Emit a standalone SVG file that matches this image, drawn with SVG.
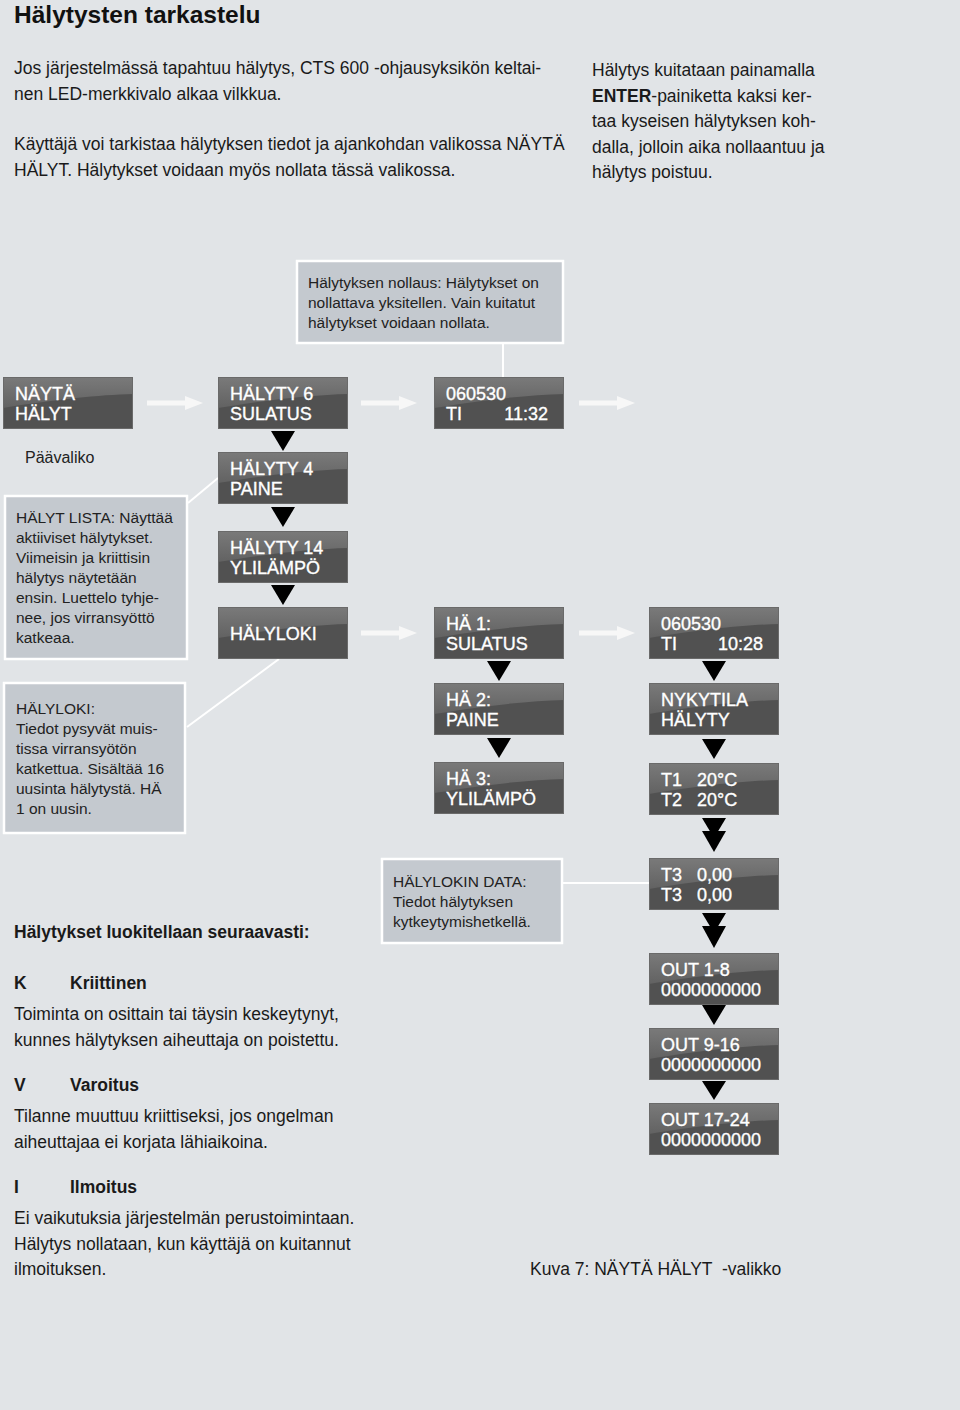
<svg xmlns="http://www.w3.org/2000/svg" xmlns:xlink="http://www.w3.org/1999/xlink" width="960" height="1410" viewBox="0 0 960 1410">
<style>
text{font-family:"Liberation Sans",Arial,Helvetica,sans-serif}
.title{font-size:24.5px;font-weight:bold;fill:#111}
.body{font-size:17.5px;fill:#1a1a1a}
.bold{font-weight:bold}
.call{font-size:15.5px;fill:#222}
.lcd{font-size:18px;fill:#fff;stroke:#fff;stroke-width:0.35}
.cbox{fill:#c4c9cf;stroke:#fff;stroke-width:2.5}
.lead{stroke:#fff;stroke-width:2;fill:none}
.tri{fill:#000}
.warr{fill:#f7f7f7}
</style>
<defs>
<linearGradient id="hl" x1="0" y1="0" x2="0" y2="1">
<stop offset="0" stop-color="#7a7a7a"/>
<stop offset="1" stop-color="#626262"/>
</linearGradient>
<symbol id="lcdbox" viewBox="0 0 130 52" width="130" height="52">
<rect x="0" y="0" width="130" height="52" fill="#515151"/>
<path d="M0,0 H130 V17 C95,18 55,22 0,31 Z" fill="url(#hl)"/>
<rect x="0.5" y="0.5" width="129" height="51" fill="none" stroke="#6a6a6a" stroke-width="1"/>
</symbol>
<g id="warrow">
<rect x="0" y="-2.5" width="40" height="5"/>
<path d="M38,-7 L56,0 L38,7 Z"/>
</g>
</defs>
<rect width="960" height="1410" fill="#e1e4e7"/>

<text class="title" x="14" y="23">Hälytysten tarkastelu</text>

<g id="intro">
<text class="body" x="14" y="74">Jos järjestelmässä tapahtuu hälytys, CTS 600 -ohjausyksikön keltai-</text>
<text class="body" x="14" y="100">nen LED-merkkivalo alkaa vilkkua.</text>
<text class="body" x="14" y="150">Käyttäjä voi tarkistaa hälytyksen tiedot ja ajankohdan valikossa NÄYTÄ</text>
<text class="body" x="14" y="176">HÄLYT. Hälytykset voidaan myös nollata tässä valikossa.</text>
<text class="body" x="592" y="76">Hälytys kuitataan painamalla</text>
<text class="body" x="592" y="102"><tspan class="bold">ENTER</tspan>-painiketta kaksi ker-</text>
<text class="body" x="592" y="127">taa kyseisen hälytyksen koh-</text>
<text class="body" x="592" y="153">dalla, jolloin aika nollaantuu ja</text>
<text class="body" x="592" y="178">hälytys poistuu.</text>
</g>

<g id="connectors">
<line class="lead" x1="503" y1="343" x2="503" y2="377"/>
<line class="lead" x1="188" y1="503" x2="218" y2="478"/>
<line class="lead" x1="187" y1="727" x2="279" y2="659"/>
<line class="lead" x1="562" y1="883" x2="649" y2="883"/>
<use href="#warrow" class="warr" x="147" y="403"/>
<use href="#warrow" class="warr" x="361" y="403"/>
<use href="#warrow" class="warr" x="579" y="403"/>
<use href="#warrow" class="warr" x="361" y="633"/>
<use href="#warrow" class="warr" x="579" y="633"/>
<path class="tri" d="M271,431 H295 L283,451 Z"/>
<path class="tri" d="M271,507 H295 L283,527 Z"/>
<path class="tri" d="M271,585 H295 L283,605 Z"/>
<path class="tri" d="M487,661 H511 L499,681 Z"/>
<path class="tri" d="M487,738 H511 L499,758 Z"/>
<path class="tri" d="M702,661 H726 L714,681 Z"/>
<path class="tri" d="M702,739 H726 L714,759 Z"/>
<path class="tri" d="M702,818 H726 L714,838 Z"/>
<path class="tri" d="M702,831 H726 L714,852 Z"/>
<path class="tri" d="M702,913 H726 L714,933 Z"/>
<path class="tri" d="M702,926 H726 L714,948 Z"/>
<path class="tri" d="M702,1005 H726 L714,1025 Z"/>
<path class="tri" d="M702,1081 H726 L714,1100 Z"/>
</g>

<g id="note-nollaus">
<rect class="cbox" x="297" y="261" width="266" height="82"/>
<text class="call" x="308" y="288">Hälytyksen nollaus: Hälytykset on</text>
<text class="call" x="308" y="308">nollattava yksitellen. Vain kuitatut</text>
<text class="call" x="308" y="328">hälytykset voidaan nollata.</text>
</g>

<g id="node-nayta">
<use href="#lcdbox" x="3" y="377"/>
<text class="lcd" x="15" y="400">NÄYTÄ</text>
<text class="lcd" x="15" y="420">HÄLYT</text>
</g>
<text class="call" x="25" y="463" style="font-size:16px">Päävaliko</text>

<g id="node-halyty6">
<use href="#lcdbox" x="218" y="377"/>
<text class="lcd" x="230" y="400">HÄLYTY 6</text>
<text class="lcd" x="230" y="420">SULATUS</text>
</g>
<g id="node-time1">
<use href="#lcdbox" x="434" y="377"/>
<text class="lcd" x="446" y="400">060530</text>
<text class="lcd" x="446" y="420">TI</text>
<text class="lcd" x="548" y="420" text-anchor="end">11:32</text>
</g>
<g id="node-halyty4">
<use href="#lcdbox" x="218" y="452"/>
<text class="lcd" x="230" y="475">HÄLYTY 4</text>
<text class="lcd" x="230" y="495">PAINE</text>
</g>
<g id="node-halyty14">
<use href="#lcdbox" x="218" y="531"/>
<text class="lcd" x="230" y="554">HÄLYTY 14</text>
<text class="lcd" x="230" y="574">YLILÄMPÖ</text>
</g>
<g id="node-halyloki">
<use href="#lcdbox" x="218" y="607"/>
<text class="lcd" x="230" y="640">HÄLYLOKI</text>
</g>
<g id="node-ha1">
<use href="#lcdbox" x="434" y="607"/>
<text class="lcd" x="446" y="630">HÄ 1:</text>
<text class="lcd" x="446" y="650">SULATUS</text>
</g>
<g id="node-time2">
<use href="#lcdbox" x="649" y="607"/>
<text class="lcd" x="661" y="630">060530</text>
<text class="lcd" x="661" y="650">TI</text>
<text class="lcd" x="763" y="650" text-anchor="end">10:28</text>
</g>
<g id="node-ha2">
<use href="#lcdbox" x="434" y="683"/>
<text class="lcd" x="446" y="706">HÄ 2:</text>
<text class="lcd" x="446" y="726">PAINE</text>
</g>
<g id="node-nykytila">
<use href="#lcdbox" x="649" y="683"/>
<text class="lcd" x="661" y="706">NYKYTILA</text>
<text class="lcd" x="661" y="726">HÄLYTY</text>
</g>
<g id="node-ha3">
<use href="#lcdbox" x="434" y="762"/>
<text class="lcd" x="446" y="785">HÄ 3:</text>
<text class="lcd" x="446" y="805">YLILÄMPÖ</text>
</g>
<g id="node-t1t2">
<use href="#lcdbox" x="649" y="763"/>
<text class="lcd" x="661" y="786">T1</text>
<text class="lcd" x="697" y="786">20°C</text>
<text class="lcd" x="661" y="806">T2</text>
<text class="lcd" x="697" y="806">20°C</text>
</g>
<g id="node-t3">
<use href="#lcdbox" x="649" y="858"/>
<text class="lcd" x="661" y="881">T3</text>
<text class="lcd" x="697" y="881">0,00</text>
<text class="lcd" x="661" y="901">T3</text>
<text class="lcd" x="697" y="901">0,00</text>
</g>
<g id="node-out1">
<use href="#lcdbox" x="649" y="953"/>
<text class="lcd" x="661" y="976">OUT 1-8</text>
<text class="lcd" x="661" y="996">0000000000</text>
</g>
<g id="node-out2">
<use href="#lcdbox" x="649" y="1028"/>
<text class="lcd" x="661" y="1051">OUT 9-16</text>
<text class="lcd" x="661" y="1071">0000000000</text>
</g>
<g id="node-out3">
<use href="#lcdbox" x="649" y="1103"/>
<text class="lcd" x="661" y="1126">OUT 17-24</text>
<text class="lcd" x="661" y="1146">0000000000</text>
</g>

<g id="note-lista">
<rect class="cbox" x="5" y="496" width="182" height="163"/>
<text class="call" x="16" y="523">HÄLYT LISTA: Näyttää</text>
<text class="call" x="16" y="543">aktiiviset hälytykset.</text>
<text class="call" x="16" y="563">Viimeisin ja kriittisin</text>
<text class="call" x="16" y="583">hälytys näytetään</text>
<text class="call" x="16" y="603">ensin. Luettelo tyhje-</text>
<text class="call" x="16" y="623">nee, jos virransyöttö</text>
<text class="call" x="16" y="643">katkeaa.</text>
</g>

<g id="note-halyloki">
<rect class="cbox" x="4" y="683" width="181" height="150"/>
<text class="call" x="16" y="714">HÄLYLOKI:</text>
<text class="call" x="16" y="734">Tiedot pysyvät muis-</text>
<text class="call" x="16" y="754">tissa virransyötön</text>
<text class="call" x="16" y="774">katkettua. Sisältää 16</text>
<text class="call" x="16" y="794">uusinta hälytystä. HÄ</text>
<text class="call" x="16" y="814">1 on uusin.</text>
</g>

<g id="note-data">
<rect class="cbox" x="382" y="859" width="180" height="84"/>
<text class="call" x="393" y="887">HÄLYLOKIN DATA:</text>
<text class="call" x="393" y="907">Tiedot hälytyksen</text>
<text class="call" x="393" y="927">kytkeytymishetkellä.</text>
</g>

<g id="classes">
<text class="body bold" x="14" y="938">Hälytykset luokitellaan seuraavasti:</text>
<text class="body bold" x="14" y="989">K</text>
<text class="body bold" x="70" y="989">Kriittinen</text>
<text class="body" x="14" y="1020">Toiminta on osittain tai täysin keskeytynyt,</text>
<text class="body" x="14" y="1046">kunnes hälytyksen aiheuttaja on poistettu.</text>
<text class="body bold" x="14" y="1091">V</text>
<text class="body bold" x="70" y="1091">Varoitus</text>
<text class="body" x="14" y="1122">Tilanne muuttuu kriittiseksi, jos ongelman</text>
<text class="body" x="14" y="1148">aiheuttajaa ei korjata lähiaikoina.</text>
<text class="body bold" x="14" y="1193">I</text>
<text class="body bold" x="70" y="1193">Ilmoitus</text>
<text class="body" x="14" y="1224">Ei vaikutuksia järjestelmän perustoimintaan.</text>
<text class="body" x="14" y="1250">Hälytys nollataan, kun käyttäjä on kuitannut</text>
<text class="body" x="14" y="1275">ilmoituksen.</text>
</g>

<text class="body" x="530" y="1275" style="white-space:pre">Kuva 7: NÄYTÄ HÄLYT  -valikko</text>
</svg>
